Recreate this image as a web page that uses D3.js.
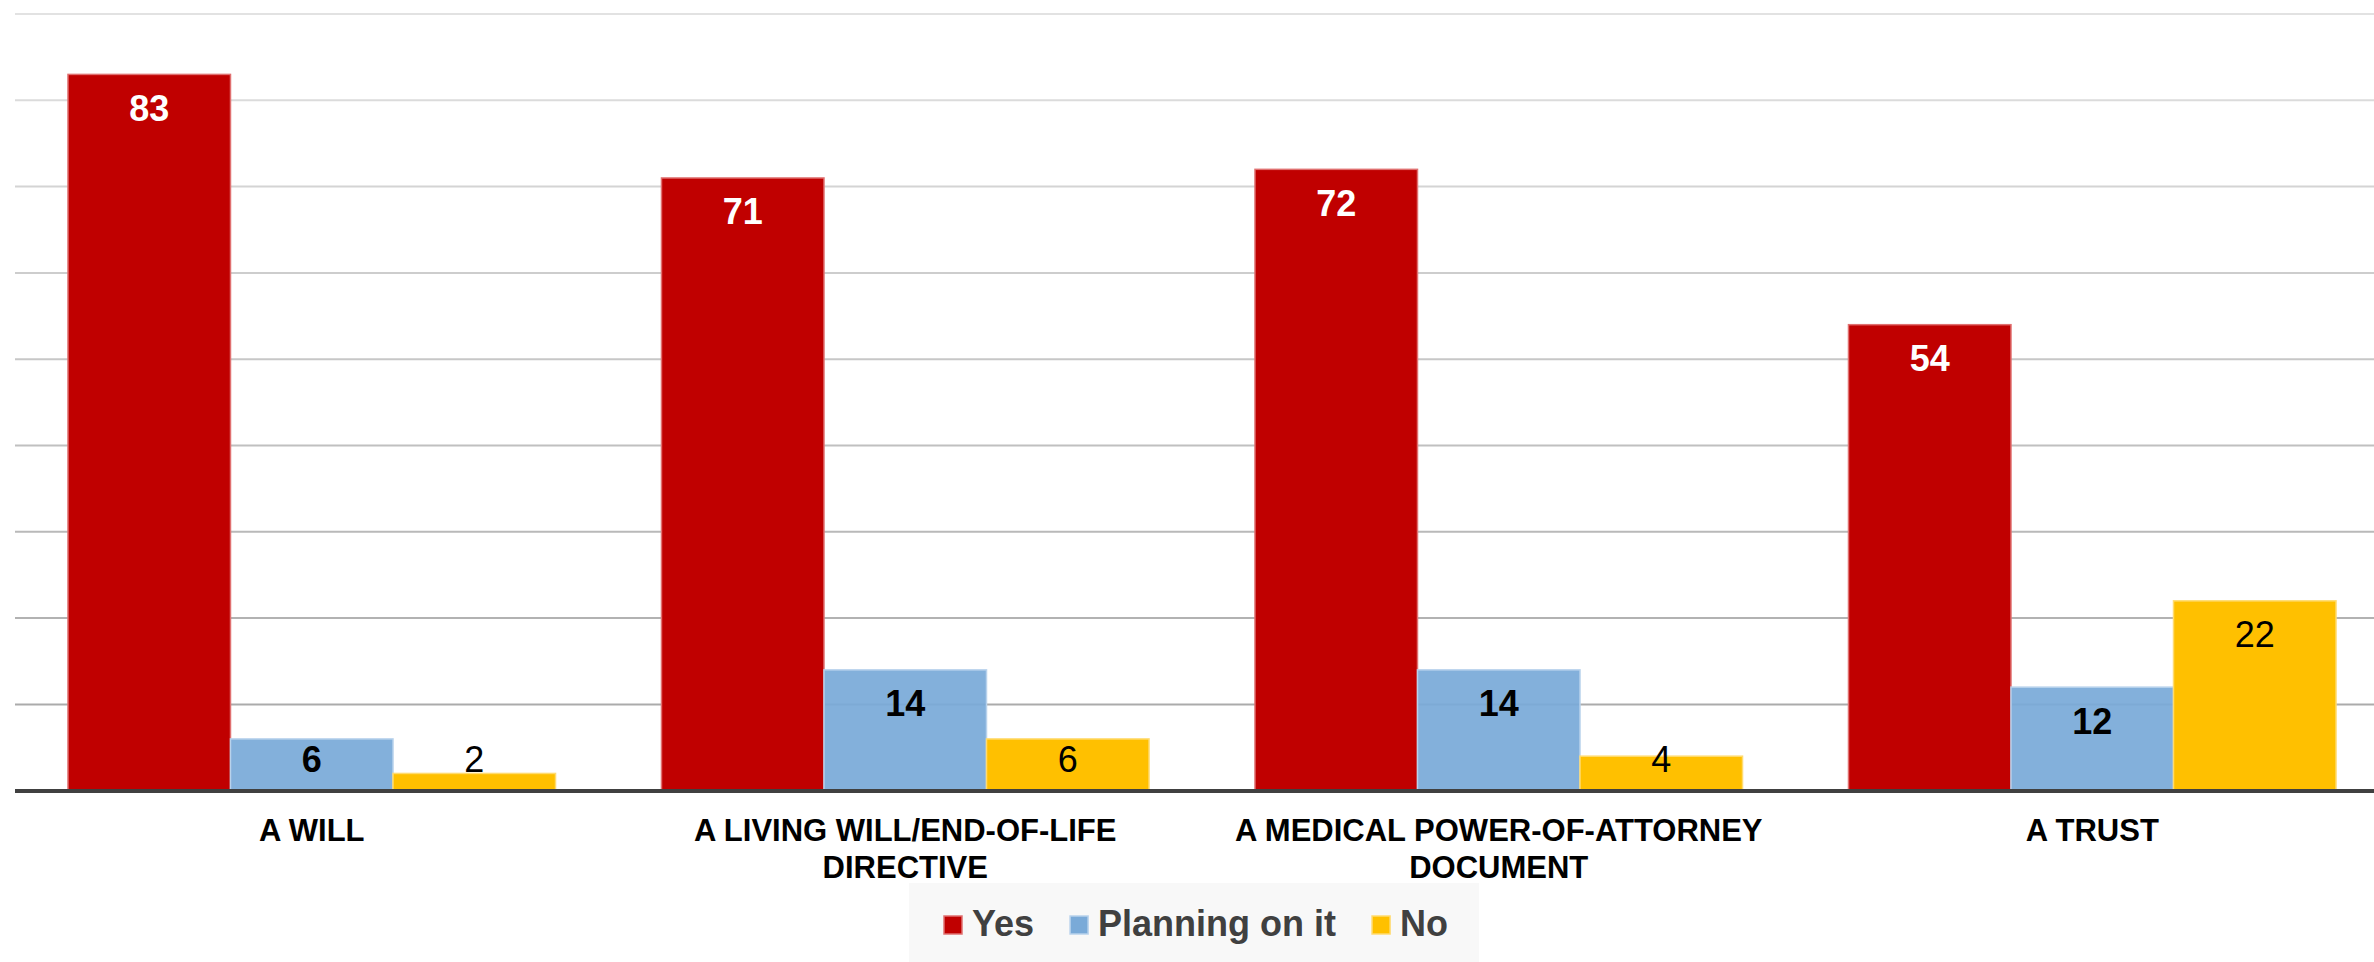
<!DOCTYPE html>
<html>
<head>
<meta charset="utf-8">
<script src="https://cdn.jsdelivr.net/npm/d3@7"></script>
<style>
  html, body { margin: 0; padding: 0; background: #ffffff; }
  svg { display: block; font-family: "Liberation Sans", Arial, sans-serif; }
</style>
</head>
<body>
<svg id="chart" width="2374" height="962"></svg>
<script>
// ---- Data ----
const categories = [
  "A WILL",
  "A LIVING WILL/END-OF-LIFE DIRECTIVE",
  "A MEDICAL POWER-OF-ATTORNEY DOCUMENT",
  "A TRUST"
];
const seriesNames = ["Yes", "Planning on it", "No"];
const yesValues = [83, 71, 72, 54];
const planningValues = [6, 14, 14, 12];
const noValues = [2, 6, 4, 22];
const yTicks = [10, 20, 30, 40, 50, 60, 70, 80, 90];

const seriesValues = [yesValues, planningValues, noValues];
const fills = ["#c00000", "#7aaad8", "#ffc000"];
const strokes = ["#e07070", "#b8d2ec", "#ffdb70"];
const labelColors = ["#ffffff", "#000000", "#000000"];
const labelWeights = ["bold", "bold", "normal"];

const rows = categories.map((c, i) => ({
  category: c,
  values: seriesNames.map((s, j) => ({ series: s, j, value: seriesValues[j][i] }))
}));

const svg = d3.select("#chart");

const x0 = d3.scaleBand().domain(categories).range([15, 2389]).padding(0);
const x1 = d3.scaleBand().domain(seriesNames).range([0, x0.bandwidth()])
  .paddingInner(0).paddingOuter(0.326);
const y = d3.scaleLinear().domain([0, 90]).range([790.7, 14]);

// gridlines
const gridColor = d3.scaleLinear().domain([90, 10]).range(["#e2e2e2", "#ababab"]);
svg.append("g").selectAll("line").data(yTicks).join("line")
  .attr("x1", 15).attr("x2", 2374)
  .attr("y1", d => y(d)).attr("y2", d => y(d))
  .attr("stroke", d => gridColor(d))
  .attr("stroke-width", 2);

// bars
const groups = svg.append("g").selectAll("g").data(rows).join("g")
  .attr("transform", d => `translate(${x0(d.category)},0)`);

groups.selectAll("rect").data(d => d.values).join("rect")
  .attr("x", d => x1(d.series))
  .attr("y", d => y(d.value))
  .attr("width", x1.bandwidth())
  .attr("height", d => y(0) - y(d.value))
  .attr("fill", d => fills[d.j])
  .attr("fill-opacity", d => d.j === 1 ? 0.93 : 1)
  .attr("stroke", d => strokes[d.j])
  .attr("stroke-width", 1.5);

// value labels
groups.selectAll("text").data(d => d.values).join("text")
  .attr("x", d => x1(d.series) + x1.bandwidth() / 2)
  .attr("y", d => Math.min(y(d.value) + 46.5, y(0) - 19))
  .attr("text-anchor", "middle")
  .attr("font-size", 36)
  .attr("font-weight", d => labelWeights[d.j])
  .attr("fill", d => labelColors[d.j])
  .text(d => d.value);

// x axis line
const xAxis = d3.axisBottom(x0).tickSize(0).tickFormat("");
const axisG = svg.append("g").attr("transform", `translate(0,${y(0) + 0.3})`).call(xAxis);
axisG.select(".domain").attr("stroke", "#404040").attr("stroke-width", 4)
  .attr("d", "M15,0H2374");

// category labels with wrapping
function wrapLines(text, maxWidth, measure) {
  const words = text.split(" ");
  const lines = [];
  let line = "";
  words.forEach(w => {
    const test = line ? line + " " + w : w;
    if (line && measure(test) > maxWidth) { lines.push(line); line = w; }
    else line = test;
  });
  if (line) lines.push(line);
  return lines;
}
const measurer = svg.append("text").attr("font-size", 31).attr("font-weight", "bold")
  .attr("visibility", "hidden");
const measure = s => { measurer.text(s); return measurer.node().getComputedTextLength(); };

categories.forEach(c => {
  const lines = wrapLines(c, 560, measure);
  const t = svg.append("text")
    .attr("text-anchor", "middle")
    .attr("font-size", 31).attr("font-weight", "bold").attr("fill", "#000000");
  lines.forEach((ln, k) => {
    t.append("tspan").attr("x", x0(c) + x0.bandwidth() / 2)
      .attr("y", 841 + k * 36.7).text(ln);
  });
});
measurer.remove();

// legend
svg.append("rect").attr("x", 909).attr("y", 883).attr("width", 570).attr("height", 90)
  .attr("fill", "#f8f8f8");
const legend = svg.append("g");
let lx = 944;
seriesNames.forEach((s, j) => {
  legend.append("rect").attr("x", lx).attr("y", 916).attr("width", 18).attr("height", 18)
    .attr("fill", fills[j]).attr("stroke", strokes[j]).attr("stroke-width", 1.5);
  const t = legend.append("text").attr("x", lx + 28).attr("y", 936)
    .attr("font-size", 36).attr("font-weight", "bold").attr("fill", "#404040").text(s);
  lx = lx + 28 + t.node().getComputedTextLength() + 36;
});
</script>
</body>
</html>
